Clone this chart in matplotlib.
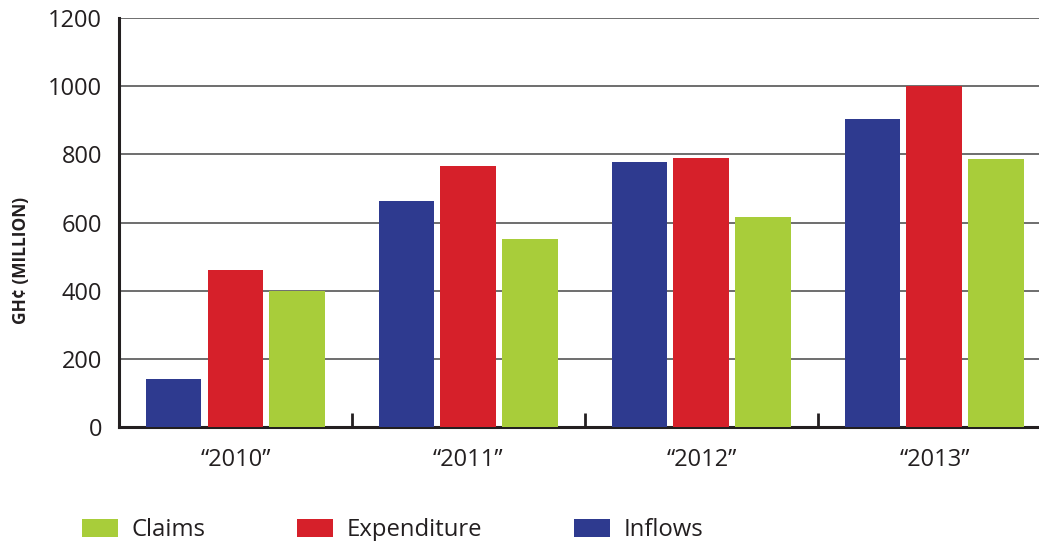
import numpy as np
import matplotlib.pyplot as plt
from matplotlib.ticker import MultipleLocator

years = ["\u201c2010\u201d", "\u201c2011\u201d", "\u201c2012\u201d", "\u201c2013\u201d"]
inflows = [141, 663, 778, 904]
expenditure = [461, 766, 789, 1000]
claims = [399, 552, 616, 786]


def main():
    plt.rcParams['font.family'] = ['Open Sans', 'DejaVu Sans']

    fig = plt.figure(figsize=(10.39, 5.41), dpi=100)
    ax = fig.add_axes([0.1145, 0.2107, 0.897, 0.756])

    x = np.arange(len(years))
    w = 0.24
    step = 0.266
    b1 = ax.bar(x - step, inflows, w, color='#2E3A8F', label='Inflows', zorder=3)
    b2 = ax.bar(x, expenditure, w, color='#D6202A', label='Expenditure', zorder=3)
    b3 = ax.bar(x + step, claims, w, color='#A8CD3A', label='Claims', zorder=3)

    ax.set_xlim(-0.5, 3.5)
    ax.set_ylim(0, 1200)
    ax.yaxis.set_major_locator(MultipleLocator(200))
    ax.grid(axis='y', color='#555555', linewidth=1.2, zorder=0)
    ax.set_axisbelow(True)

    # category labels, ticks between groups
    ax.set_xticks(x)
    ax.set_xticklabels(years, fontsize=17, color='#231f20')
    ax.tick_params(axis='x', which='major', length=0, pad=15)
    ax.set_xticks([0.5, 1.5, 2.5], minor=True)
    ax.tick_params(axis='x', which='minor', direction='in', length=10, width=2, color='#231f20')
    ax.tick_params(axis='y', length=0, pad=12, labelsize=17, labelcolor='#231f20')

    for s in ['top', 'right']:
        ax.spines[s].set_visible(False)
    ax.spines['left'].set_linewidth(2.2)
    ax.spines['left'].set_color('#231f20')
    ax.spines['bottom'].set_linewidth(2.2)
    ax.spines['bottom'].set_color('#231f20')

    fig.text(0.02, 0.518, 'GH\u00a2 (MILLION)', rotation=90, fontsize=12.5,
             fontweight='bold', va='center', ha='center', color='#231f20')

    fig.legend([b3, b2, b1], ['Claims', 'Expenditure', 'Inflows'], loc='center left',
               bbox_to_anchor=(0.079, 0.02), ncol=3, frameon=False, fontsize=17.2,
               handlelength=1.5, handleheight=0.8, handletextpad=0.56,
               columnspacing=3.85, borderpad=0, borderaxespad=0, labelcolor='#231f20')

    fig.savefig('out.png', dpi=100)


if __name__ == "__main__":
    main()
